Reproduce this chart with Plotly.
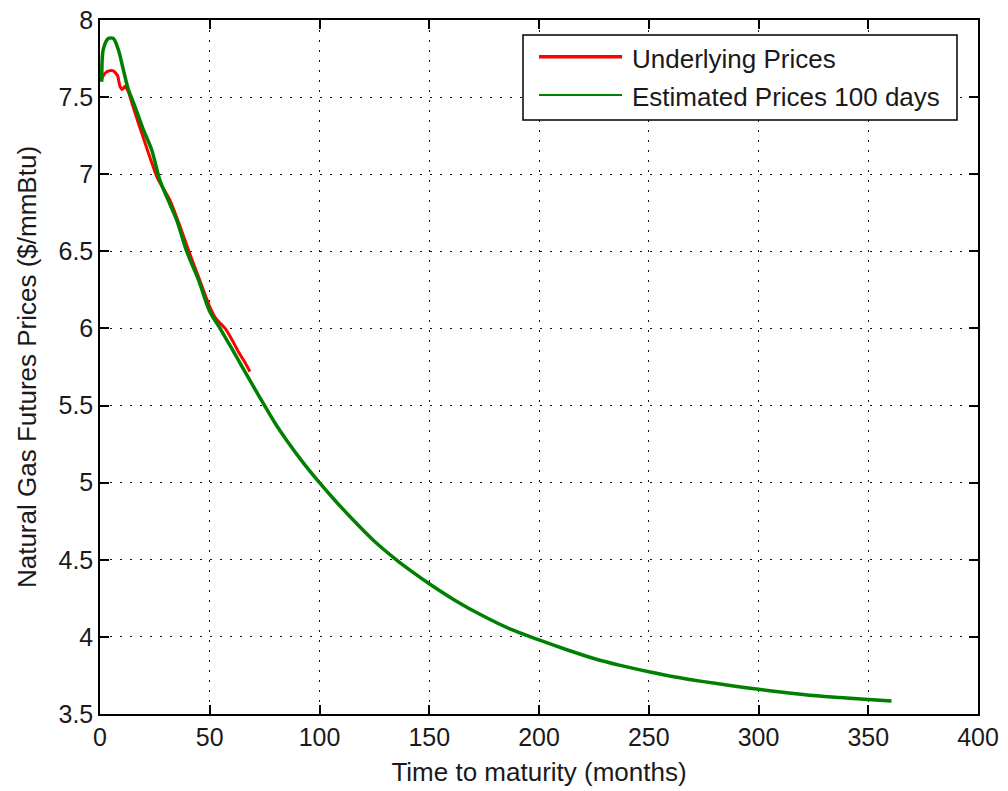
import plotly.graph_objects as go

# Underlying (market) futures prices
under_x = [0.8, 2.3, 4.0, 6.1, 8.0, 9.1, 10.2, 11.4, 12.9, 15.0, 18.0, 22.0, 26.0, 31.9, 36.0,
           40.5, 45.0, 50.0, 53.0, 57.0, 60.0, 63.0, 66.0, 68.3]
under_y = [7.62, 7.655, 7.67, 7.67, 7.64, 7.57, 7.55, 7.57, 7.535, 7.44, 7.31, 7.14, 6.98, 6.83, 6.68,
           6.50, 6.33, 6.14, 6.06, 6.00, 5.93, 5.85, 5.78, 5.72]

# Estimated prices (100 days)
est_x = [0.8, 1.5, 3.8, 6.1, 8.3, 10.6, 12.9, 15.9, 19.7, 23.5, 27.3, 31.1, 35.0, 39.5, 45.0,
         50.0, 54.7, 60.0, 66.0, 72.9, 80.0, 85.0, 92.0, 100.0, 108.0, 116.9, 125.0, 135.0,
         142.0, 150.0, 162.0, 174.6, 187.0, 200.0, 212.0, 225.0, 237.0, 250.0, 262.0, 275.0,
         287.0, 300.0, 312.0, 325.0, 337.0, 350.0, 360.6]
est_y = [7.60, 7.81, 7.88, 7.88, 7.81, 7.68, 7.55, 7.44, 7.29, 7.16, 6.96, 6.83, 6.70, 6.50, 6.31,
         6.11, 6.00, 5.87, 5.72, 5.55, 5.38, 5.275, 5.14, 5.00, 4.87, 4.735, 4.62, 4.50,
         4.425, 4.345, 4.235, 4.135, 4.05, 3.98, 3.92, 3.86, 3.815, 3.774, 3.74, 3.71,
         3.685, 3.66, 3.64, 3.62, 3.607, 3.594, 3.585]

x_ticks = [0, 50, 100, 150, 200, 250, 300, 350, 400]
y_ticks = [3.5, 4, 4.5, 5, 5.5, 6, 6.5, 7, 7.5, 8]
y_tick_text = ["3.5", "4", "4.5", "5", "5.5", "6", "6.5", "7", "7.5", "8"]

series_names = ["Underlying Prices", "Estimated Prices 100 days"]
series_colors = ["#ff0000", "#008000"]

FONT = "Liberation Sans, Arial, Helvetica, sans-serif"
TXT = "#1a1a1a"

fig = go.Figure()
fig.add_trace(go.Scatter(x=under_x, y=under_y, mode="lines", name=series_names[0],
                         line=dict(color=series_colors[0], width=3, shape="spline", smoothing=0.5),
                         showlegend=False))
fig.add_trace(go.Scatter(x=est_x, y=est_y, mode="lines", name=series_names[1],
                         line=dict(color=series_colors[1], width=3.5, shape="spline", smoothing=0.8),
                         showlegend=False))

axis_common = dict(
    showline=True, linecolor="#000", linewidth=1.5, mirror="ticks",
    ticks="inside", ticklen=9, tickwidth=1.5, tickcolor="#000",
    showgrid=True, gridcolor="#111", gridwidth=1, griddash="2px,8px",
    zeroline=False, tickfont=dict(family=FONT, size=25, color=TXT),
    automargin=False,
)

fig.update_xaxes(range=[0, 400], tickvals=x_ticks, ticktext=[str(v) for v in x_ticks],
                 title=dict(text="Time to maturity (months)",
                            font=dict(family=FONT, size=26, color=TXT), standoff=13),
                 **axis_common)
fig.update_yaxes(range=[3.5, 8], tickvals=y_ticks, ticktext=y_tick_text,
                 title=dict(text="Natural Gas Futures Prices ($/mmBtu)",
                            font=dict(family=FONT, size=26, color=TXT), standoff=14),
                 **axis_common)

# plot area targets x 100..978, y 20..714 (body margin removed below)
W, H = 1008, 791
L, R, T, B = 100, 30, 20, 77
pw, ph = W - L - R, H - T - B

def px(xp):
    return (xp - L) / pw

def py(yp):
    return (H - B - yp) / ph

shapes = [dict(type="rect", xref="paper", yref="paper", x0=px(523), x1=px(957),
               y0=py(120), y1=py(35), line=dict(color="#000", width=1.5),
               fillcolor="white", layer="above")]
annotations = []
legend_rows = [56.7, 95.0]
legend_widths = [3.5, 2]
for i in range(2):
    shapes.append(dict(type="line", xref="paper", yref="paper", x0=px(539), x1=px(622),
                       y0=py(legend_rows[i]), y1=py(legend_rows[i]),
                       line=dict(color=series_colors[i], width=legend_widths[i]), layer="above"))
    annotations.append(dict(xref="paper", yref="paper", x=px(630), y=py(legend_rows[i] + 2),
                            xanchor="left", yanchor="middle", showarrow=False,
                            text=series_names[i], font=dict(family=FONT, size=26, color=TXT)))

fig.update_layout(
    width=W, height=H,
    margin=dict(l=L, r=R, t=T, b=B, pad=0),
    paper_bgcolor="white", plot_bgcolor="white",
    shapes=shapes, annotations=annotations, showlegend=False,
)

fig.write_html("out.html", config={"displayModeBar": False},
               post_script="document.body.style.margin='0';document.body.style.overflow='hidden';")
